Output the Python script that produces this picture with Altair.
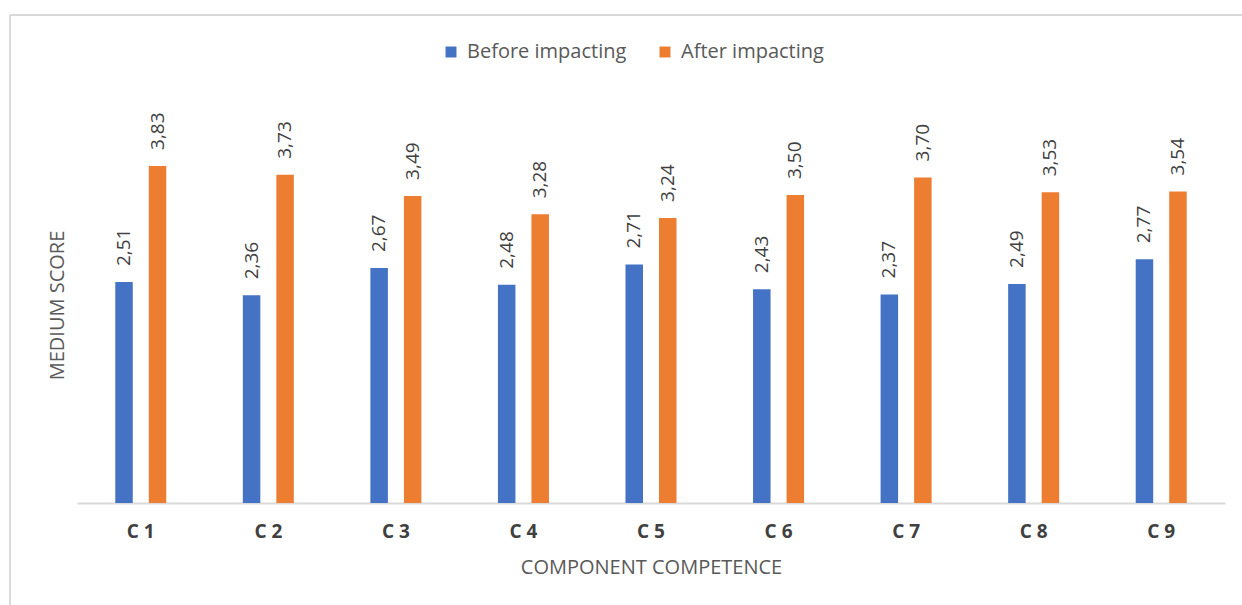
import altair as alt
import pandas as pd

categories = ["C 1", "C 2", "C 3", "C 4", "C 5", "C 6", "C 7", "C 8", "C 9"]
series_names = ["Before impacting", "After impacting"]
before_values = [2.51, 2.36, 2.67, 2.48, 2.71, 2.43, 2.37, 2.49, 2.77]
after_values = [3.83, 3.73, 3.49, 3.28, 3.24, 3.50, 3.70, 3.53, 3.54]
colors = ["#4472C4", "#ED7D31"]

rows = []
for c, b, a in zip(categories, before_values, after_values):
    rows.append({"cat": c, "series": series_names[0], "value": b})
    rows.append({"cat": c, "series": series_names[1], "value": a})
df = pd.DataFrame(rows)

FONT = "Open Sans"

x_enc = alt.X(
    "cat:N",
    sort=categories,
    scale=alt.Scale(paddingInner=0.6, paddingOuter=0.3),
    axis=alt.Axis(
        title="COMPONENT COMPETENCE",
        labelAngle=0,
        ticks=False,
        domainColor="#D9D9D9",
        domainWidth=2,
        labelFont=FONT,
        labelFontWeight="bold",
        labelFontSize=19,
        labelColor="#404040",
        labelPadding=19,
        titleFont=FONT,
        titleFontSize=20,
        titleFontWeight="normal",
        titleColor="#595959",
        titlePadding=16,
    ),
)
xoff_enc = alt.XOffset(
    "series:N",
    sort=series_names,
    scale=alt.Scale(paddingInner=0.478, paddingOuter=0),
)
y_enc = alt.Y(
    "value:Q",
    scale=alt.Scale(domain=[0, 4.5]),
    axis=alt.Axis(
        title="MEDIUM SCORE",
        labels=False,
        ticks=False,
        domain=False,
        grid=False,
        titleFont=FONT,
        titleFontSize=20,
        titleFontWeight="normal",
        titleColor="#595959",
        titlePadding=10,
    ),
)
color_enc = alt.Color(
    "series:N",
    sort=series_names,
    scale=alt.Scale(domain=series_names, range=colors),
    legend=alt.Legend(
        title=None,
        orient="none",
        direction="horizontal",
        legendX=364,
        legendY=-65,
        symbolType="square",
        symbolSize=120,
        symbolStrokeWidth=0,
        labelFont=FONT,
        labelFontSize=20,
        labelColor="#595959",
        labelOffset=6,
        columnPadding=28,
    ),
)

base = alt.Chart(df)

bars = base.mark_bar().encode(x=x_enc, xOffset=xoff_enc, y=y_enc, color=color_enc)

labels = base.transform_calculate(
    label="replace(format(datum.value, '.2f'), '.', ',')"
).mark_text(
    angle=270, align="left", baseline="middle", dx=16,
    font=FONT, fontSize=19, color="#404040",
).encode(x=x_enc, xOffset=xoff_enc, y=y_enc, text="label:N")

border_df = pd.DataFrame({"k": [0]})
border_top = alt.Chart(border_df).mark_rule(color="#D9D9D9", strokeWidth=2).encode(
    x=alt.value(-67), x2=alt.value(1170), y=alt.value(-92)
)
border_left = alt.Chart(border_df).mark_rule(color="#D9D9D9", strokeWidth=2).encode(
    x=alt.value(-67), y=alt.value(-92), y2=alt.value(510)
)

chart = alt.layer(border_top, border_left, bars, labels).properties(
    width=1148,
    height=396,
    autosize=alt.AutoSizeParams(type="none"),
    padding={"left": 77, "top": 107, "right": 17, "bottom": 102},
).configure_view(stroke=None)

chart.save("out.html", embed_options={"renderer": "svg", "actions": False})
